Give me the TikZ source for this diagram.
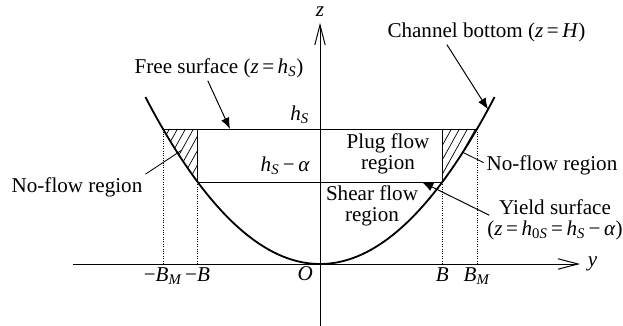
\documentclass[tikz,border=0pt]{standalone}
\usepackage{fontspec}
\setmainfont{Liberation Serif}
\usepackage{tikz}
\usetikzlibrary{positioning,arrows.meta}

\newcommand{\mv}[1]{\textit{#1}}
\newcommand{\hS}{\mv{h}\textsubscript{\mv{S}}}

\begin{document}
\begin{tikzpicture}[
    x=0.025cm, y=0.025cm,
    font=\fontsize{15}{15.2}\selectfont,
    node distance=0.1cm,
    axis/.style={-{Straight Barb[length=5mm,width=2.6mm]}, line width=0.7pt},
    wall/.style={line width=1.3pt},
    level/.style={line width=0.7pt},
    guide/.style={densely dotted, line width=0.7pt},
    callout/.style={-{Latex[length=2.8mm,width=2.2mm]}, line width=0.7pt},
    leader/.style={line width=0.6pt},
    hatch/.style={line width=0.5pt},
    lbl/.style={align=center, inner sep=2pt},
    ticklbl/.style={inner sep=2pt, text height=1.6ex, text depth=0.6ex}
]
\useasboundingbox (-320,-62) rectangle (303,264);

% levels and half widths
\def\zS{135}
\def\zY{82}
\def\wB{122.4}
\def\wBM{157}

% hatched no-flow corners
\begin{scope}
  \clip (-\wB,\zY) -- (-\wB,\zS) -- (-\wBM,\zS)
    -- plot[domain=-\wBM:-\wB, samples=20] ({\x},{\x/13.513*\x/13.513}) -- cycle;
  \foreach \t in {-196,-188,...,-116}
    \draw[hatch] (\t,\zY) -- ++(40,72);
\end{scope}
\begin{scope}
  \clip (\wB,\zY) -- (\wB,\zS) -- (\wBM,\zS)
    -- plot[domain=\wBM:\wB, samples=20] ({\x},{\x/13.513*\x/13.513}) -- cycle;
  \foreach \t in {86,94,...,166}
    \draw[hatch] (\t,\zY) -- ++(40,72);
\end{scope}

% axes
\coordinate (O) at (0,0);
\coordinate (ystart) at (-247,0);
\coordinate (yend) at (260,0);
\coordinate (zstart) at (0,-62);
\coordinate (zend) at (0,241);
\draw[axis] (ystart) -- (yend);
\draw[axis] (zstart) -- (zend);
\node[right=0.12cm of yend, inner sep=2pt] (ylab) {\mv{y}};
\node[above=0.08cm of zend, inner sep=2pt] (zlab) {\mv{z}};
\node[below left=0.08cm and 0.1cm of O, ticklbl] (olab) {\mv{O}};

% channel bottom
\draw[wall] plot[domain=-174.6:174.6, samples=80, smooth] ({\x},{\x/13.513*\x/13.513});

% free surface and yield surface
\draw[level] (-\wBM,\zS) -- (\wBM,\zS);
\draw[level] (-\wB,\zY) -- (\wB,\zY);
\draw[level] (-\wB,\zY) -- (-\wB,\zS);
\draw[level] (\wB,\zY) -- (\wB,\zS);

% guides down to the axis
\coordinate (tBML) at (-\wBM,0);
\coordinate (tBL) at (-\wB,0);
\coordinate (tB) at (\wB,0);
\coordinate (tBM) at (\wBM,0);
\draw[guide] (tBML) -- (-\wBM,\zS);
\draw[guide] (tBL) -- (-\wB,\zY);
\draw[guide] (tB) -- (\wB,\zY);
\draw[guide] (tBM) -- (\wBM,\zS);
\node[below=0.1cm of tBML, ticklbl] (bmllab) {−\mv{B}\textsubscript{\mv{M}}};
\node[below=0.1cm of tBL, ticklbl] (bllab) {−\mv{B}};
\node[below=0.1cm of tB, ticklbl] (blab) {\mv{B}};
\node[below=0.1cm of tBM, ticklbl] (bmlab) {\mv{B}\textsubscript{\mv{M}}};

% level labels
\coordinate (hsmark) at (0,\zS);
\coordinate (hymark) at (0,\zY);
\node[above left=0.06cm and 0.2cm of hsmark, inner sep=2pt] (hslab) {\hS};
\node[above left=0.1cm and 0.18cm of hymark, inner sep=2pt] (hylab) {\hS\,−\,\mv{α}};

% region labels
\node[lbl] (plug) at (68,110) {Plug flow\\region};
\node[lbl] (shear) at (52,58) {Shear flow\\region};
\node[lbl] (freelbl) at (-101,196) {Free surface (\mv{z}\,=\,\hS)};
\node[lbl] (chanlbl) at (166.5,232) {Channel bottom (\mv{z}\,=\,\mv{H})};
\node[lbl] (noflowL) at (-243,77) {No-flow region};
\node[lbl] (noflowR) at (232,99) {No-flow region};
\node[lbl] (yieldlbl) at (235,44) {Yield surface\\(\mv{z}\,=\,\mv{h}\textsubscript{0\mv{S}}\,=\,\hS\,−\,\mv{α})};

% pointers
\coordinate (freetip) at (-90,\zS);
\coordinate (chantip) at (168,154.6);
\coordinate (yieldtip) at (102,\zY);
\coordinate (nfLend) at (-138,114);
\coordinate (nfRend) at (142,112);
\draw[callout] ([xshift=-0.28cm]freelbl.south) -- (freetip);
\draw[callout] ([xshift=-0.99cm]chanlbl.south) -- (chantip);
\draw[callout] ([xshift=0.12cm,yshift=0.12cm]yieldlbl.west) -- (yieldtip);
\draw[leader] (noflowL.north east) -- (nfLend);
\draw[leader] (nfRend) -- ([yshift=0.06cm]noflowR.west);
\end{tikzpicture}
\end{document}
